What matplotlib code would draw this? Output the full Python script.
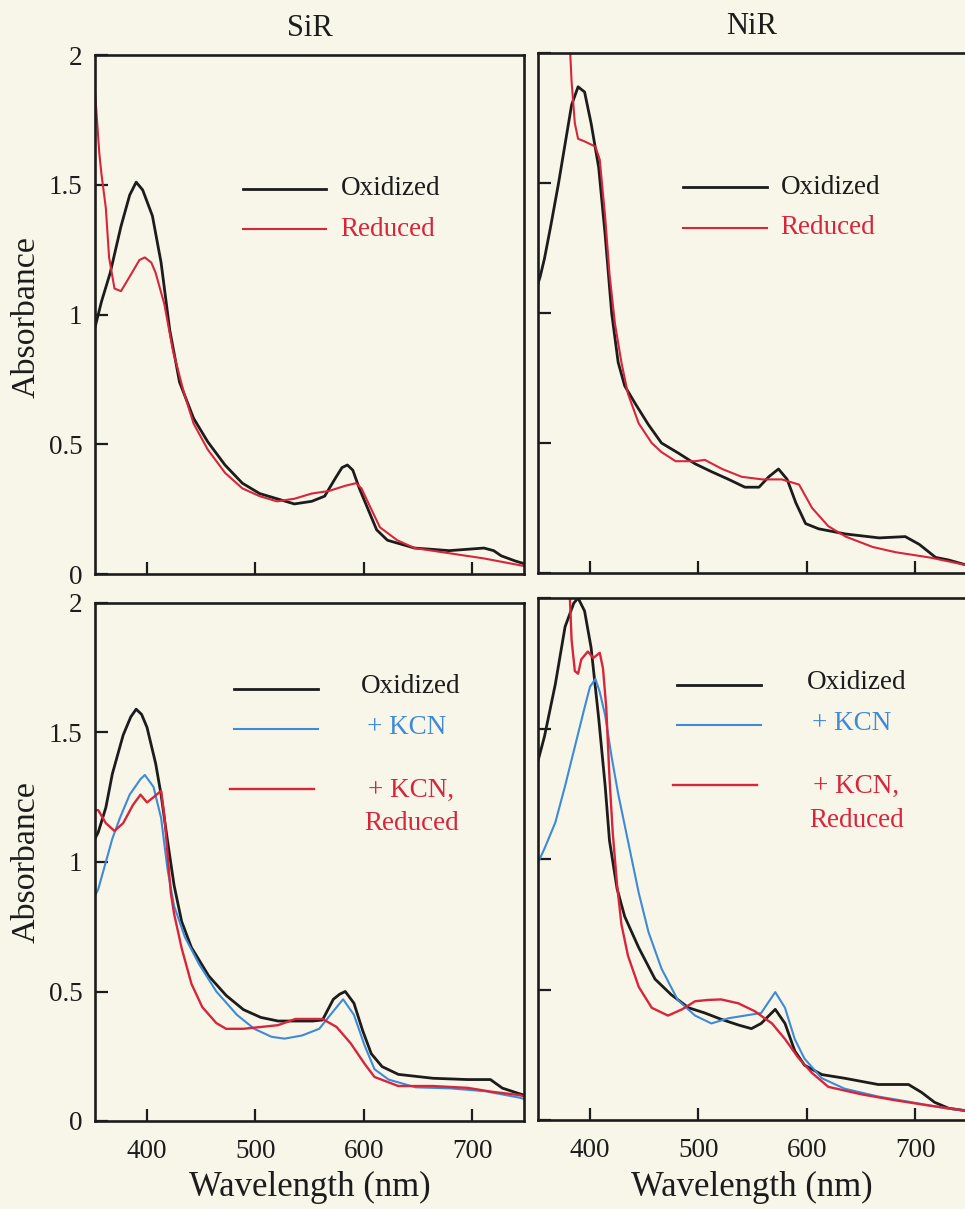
import matplotlib
matplotlib.use("Agg")
import matplotlib.pyplot as plt
from matplotlib.ticker import FixedLocator, FixedFormatter

plt.rcParams['font.family'] = ['Liberation Serif', 'DejaVu Serif']

# ---------------- data ----------------
# SiR (top-left)
sir_ox_wl = [352, 358, 366, 376, 384, 390, 396, 405, 413, 421, 430, 443, 456, 472, 488, 504, 520, 536, 552, 564,
             574, 580, 585, 590, 596, 603, 612, 622, 647, 679, 711, 720, 727, 740, 748]
sir_ox_a = [0.95, 1.05, 1.16, 1.34, 1.46, 1.51, 1.48, 1.38, 1.20, 0.94, 0.74, 0.60, 0.51, 0.42, 0.35, 0.31, 0.29,
            0.27, 0.28, 0.30, 0.37, 0.41, 0.42, 0.40, 0.33, 0.26, 0.17, 0.13, 0.10, 0.09, 0.10, 0.09, 0.07, 0.05, 0.04]
sir_red_wl = [351, 353, 356, 358, 362, 365, 370, 376, 386, 393, 398, 404, 408, 416, 424, 434, 443, 456, 472, 488,
              504, 520, 536, 552, 568, 583, 593, 598, 603, 615, 631, 647, 679, 711, 749]
sir_red_a = [1.92, 1.80, 1.62, 1.54, 1.41, 1.22, 1.10, 1.09, 1.16, 1.21, 1.22, 1.20, 1.16, 1.04, 0.86, 0.70, 0.58,
             0.48, 0.39, 0.33, 0.30, 0.28, 0.29, 0.31, 0.32, 0.34, 0.35, 0.33, 0.285, 0.18, 0.13, 0.10, 0.08, 0.06, 0.03]

# NiR (top-right)
nir_ox_wl = [351, 354, 358, 364, 371, 377, 383, 389, 395, 401, 408, 414, 420, 426, 432, 442, 454, 466, 482, 497,
             512, 528, 543, 556, 565, 574, 582, 590, 599, 611, 636, 667, 691, 704, 719, 731, 748]
nir_ox_a = [1.10, 1.14, 1.21, 1.34, 1.50, 1.65, 1.80, 1.87, 1.85, 1.73, 1.56, 1.30, 1.00, 0.81, 0.72, 0.65, 0.57,
            0.50, 0.46, 0.42, 0.39, 0.36, 0.33, 0.33, 0.37, 0.40, 0.36, 0.27, 0.19, 0.17, 0.15, 0.135, 0.14, 0.11,
            0.06, 0.05, 0.03]
nir_red_wl = [380, 383, 386, 389, 395, 405, 409, 414, 418, 423, 429, 435, 445, 457, 466, 479, 497, 506, 522, 540,
              559, 577, 593, 605, 620, 636, 661, 682, 713, 748]
nir_red_a = [2.15, 1.89, 1.73, 1.67, 1.66, 1.64, 1.59, 1.37, 1.15, 0.96, 0.81, 0.69, 0.575, 0.50, 0.465, 0.43,
             0.43, 0.435, 0.40, 0.37, 0.36, 0.36, 0.34, 0.25, 0.18, 0.14, 0.10, 0.08, 0.06, 0.03]

# SiR + KCN (bottom-left)
sirk_ox_wl = [352, 355, 362, 368, 378, 385, 390, 395, 400, 408, 413, 419, 425, 432, 441, 457, 473, 489, 505, 521,
              537, 553, 562, 572, 578, 583, 591, 599, 607, 617, 632, 664, 696, 717, 728, 744, 748]
sirk_ox_a = [1.09, 1.115, 1.21, 1.34, 1.49, 1.56, 1.59, 1.57, 1.52, 1.38, 1.26, 1.08, 0.91, 0.77, 0.67, 0.56,
             0.485, 0.43, 0.40, 0.386, 0.386, 0.386, 0.39, 0.47, 0.49, 0.50, 0.455, 0.35, 0.26, 0.21, 0.18, 0.165,
             0.16, 0.16, 0.127, 0.105, 0.10]
sirk_kcn_wl = [352, 355, 362, 368, 375, 384, 394, 398, 406, 413, 419, 425, 435, 448, 464, 483, 499, 515, 527, 543,
               559, 572, 581, 591, 601, 610, 623, 648, 680, 712, 744, 748]
sirk_kcn_a = [0.87, 0.895, 1.0, 1.09, 1.17, 1.26, 1.32, 1.336, 1.29, 1.17, 0.97, 0.83, 0.71, 0.606, 0.50, 0.41,
              0.356, 0.325, 0.318, 0.33, 0.356, 0.424, 0.47, 0.41, 0.29, 0.20, 0.16, 0.13, 0.126, 0.115, 0.09, 0.085]
sirk_red_wl = [352, 355, 362, 370, 378, 387, 394, 400, 406, 413, 416, 419, 422, 425, 432, 441, 451, 464, 473, 489,
               521, 537, 562, 575, 588, 601, 610, 632, 664, 696, 718, 744, 748]
sirk_red_a = [1.2, 1.2, 1.15, 1.12, 1.15, 1.22, 1.26, 1.23, 1.25, 1.275, 1.18, 1.03, 0.88, 0.80, 0.667, 0.53, 0.44,
              0.378, 0.356, 0.356, 0.37, 0.394, 0.394, 0.363, 0.30, 0.22, 0.17, 0.135, 0.135, 0.128, 0.113, 0.10,
              0.095]

# NiR + KCN (bottom-right)
nirk_ox_wl = [351, 358, 368, 377, 385, 389, 395, 401, 408, 414, 418, 425, 432, 445, 460, 475, 491, 506, 521, 537,
              549, 558, 571, 580, 589, 598, 614, 635, 666, 694, 706, 718, 731, 748]
nirk_ox_a = [1.36, 1.47, 1.67, 1.89, 1.98, 2.0, 1.95, 1.81, 1.54, 1.28, 1.07, 0.886, 0.78, 0.66, 0.54, 0.48, 0.43,
             0.41, 0.386, 0.364, 0.35, 0.37, 0.424, 0.37, 0.265, 0.21, 0.174, 0.16, 0.136, 0.136, 0.106, 0.068,
             0.045, 0.035]
nirk_kcn_wl = [351, 358, 368, 377, 386, 395, 400, 405, 409, 414, 420, 426, 432, 438, 445, 454, 466, 481, 497, 512,
               528, 543, 558, 571, 580, 589, 598, 614, 635, 666, 697, 728, 748]
nirk_kcn_a = [0.977, 1.04, 1.14, 1.28, 1.43, 1.58, 1.66, 1.69, 1.64, 1.55, 1.39, 1.25, 1.13, 1.01, 0.87, 0.72, 0.58,
              0.46, 0.40, 0.37, 0.39, 0.40, 0.41, 0.49, 0.43, 0.31, 0.235, 0.16, 0.12, 0.09, 0.068, 0.045, 0.035]
nirk_red_wl = [380, 383, 386, 389, 392, 398, 403, 409, 412, 415, 418, 421, 425, 429, 435, 445, 457, 472, 485, 497,
               509, 521, 537, 552, 568, 580, 592, 605, 620, 651, 681, 712, 748]
nirk_red_a = [2.15, 1.84, 1.72, 1.71, 1.765, 1.795, 1.77, 1.79, 1.73, 1.58, 1.31, 1.10, 0.90, 0.75, 0.63, 0.51,
              0.43, 0.40, 0.424, 0.455, 0.46, 0.462, 0.447, 0.417, 0.37, 0.31, 0.24, 0.18, 0.127, 0.098, 0.076,
              0.056, 0.035]

titles = ["SiR", "NiR"]
ytick_vals = [0, 0.5, 1, 1.5, 2]
ytick_labels = ["0", "0.5", "1", "1.5", "2"]
xtick_vals = [400, 500, 600, 700]
xtick_labels = ["400", "500", "600", "700"]
legend_top = ["Oxidized", "Reduced"]
legend_bottom = ["Oxidized", "+ KCN", "+ KCN,\nReduced"]
ylabel = "Absorbance"
xlabel = "Wavelength (nm)"

# ---------------- styling ----------------
BG = "#f8f6e9"
BLACK = "#1c1c1c"
RED = "#d7253b"
BLUE = "#3f8ad6"
W, H = 965, 1209

fig = plt.figure(figsize=(W / 100, H / 100), dpi=100, facecolor=BG)


def add_ax(left, top, right, bottom):
    return fig.add_axes([left / W, 1 - bottom / H, (right - left) / W, (bottom - top) / H])


ax_tl = add_ax(95, 55, 524, 574)
ax_tr = add_ax(538, 53, 967, 573)
ax_bl = add_ax(95, 603, 524, 1121)
ax_br = add_ax(538, 598, 967, 1120)

for ax in (ax_tl, ax_tr, ax_bl, ax_br):
    ax.set_facecolor(BG)
    ax.set_xlim(352, 748)
    ax.set_ylim(0, 2)
    for s in ax.spines.values():
        s.set_linewidth(1.9)
        s.set_color(BLACK)
    ax.xaxis.set_major_locator(FixedLocator(xtick_vals))
    ax.yaxis.set_major_locator(FixedLocator(ytick_vals))
    ax.tick_params(direction='in', length=9, width=1.6, color=BLACK, labelsize=19.5, pad=9,
                   top=False, right=False, labelcolor=BLACK)

for ax in (ax_tl, ax_bl):
    ax.yaxis.set_major_formatter(FixedFormatter(ytick_labels))
for ax in (ax_tr, ax_br):
    ax.tick_params(labelleft=False)
for ax in (ax_tl, ax_tr):
    ax.tick_params(labelbottom=False)
for ax in (ax_bl, ax_br):
    ax.xaxis.set_major_formatter(FixedFormatter(xtick_labels))
    ax.tick_params(axis='x', pad=13)

# titles and axis labels placed in figure pixels
fig.text(309.5 / W, 1 - 28 / H, titles[0], fontsize=22, ha='center', va='center', color=BLACK)
fig.text(752 / W, 1 - 27 / H, titles[1], fontsize=22, ha='center', va='center', color=BLACK)
fig.text(26 / W, 1 - 317 / H, ylabel, fontsize=24.5, rotation=90, ha='center', va='center', color=BLACK)
fig.text(26 / W, 1 - 862 / H, ylabel, fontsize=24.5, rotation=90, ha='center', va='center', color=BLACK)
fig.text(309.5 / W, 1 - 1187 / H, xlabel, fontsize=25, ha='center', va='center', color=BLACK)
fig.text(752 / W, 1 - 1187 / H, xlabel, fontsize=25, ha='center', va='center', color=BLACK)

# ---------------- curves ----------------
ax_tl.plot(sir_ox_wl, sir_ox_a, color=BLACK, lw=2.0)
ax_tl.plot(sir_red_wl, sir_red_a, color=RED, lw=1.5)
ax_tr.plot(nir_ox_wl, nir_ox_a, color=BLACK, lw=2.0)
ax_tr.plot(nir_red_wl, nir_red_a, color=RED, lw=1.5)

ax_bl.plot(sirk_ox_wl, sirk_ox_a, color=BLACK, lw=2.0)
ax_bl.plot(sirk_kcn_wl, sirk_kcn_a, color=BLUE, lw=1.5)
ax_bl.plot(sirk_red_wl, sirk_red_a, color=RED, lw=1.7)
ax_br.plot(nirk_ox_wl, nirk_ox_a, color=BLACK, lw=2.0)
ax_br.plot(nirk_kcn_wl, nirk_kcn_a, color=BLUE, lw=1.5)
ax_br.plot(nirk_red_wl, nirk_red_a, color=RED, lw=1.7)

# ---------------- legends (hand placed) ----------------
for ax, (x0, x1, xt) in ((ax_tl, (0.345, 0.538, 0.572)), (ax_tr, (0.337, 0.534, 0.565))):
    tr = ax.transAxes
    ax.plot([x0, x1], [0.742, 0.742], transform=tr, color=BLACK, lw=2.0)
    ax.plot([x0, x1], [0.664, 0.664], transform=tr, color=RED, lw=1.5)
    ax.text(xt, 0.742, legend_top[0], transform=tr, fontsize=19.5, color=BLACK, va='center', ha='left')
    ax.text(xt, 0.664, legend_top[1], transform=tr, fontsize=19.5, color=RED, va='center', ha='left')

for ax, xc in ((ax_bl, 0.737), (ax_br, 0.742)):
    tr = ax.transAxes
    ax.plot([0.325, 0.52], [0.834, 0.834], transform=tr, color=BLACK, lw=2.0)
    ax.plot([0.325, 0.52], [0.757, 0.757], transform=tr, color=BLUE, lw=1.5)
    ax.plot([0.315, 0.51], [0.641, 0.641], transform=tr, color=RED, lw=1.7)
    ax.text(xc, 0.838, legend_bottom[0], transform=tr, fontsize=19.5, color=BLACK, va='center', ha='center')
    ax.text(xc - 0.01, 0.759, legend_bottom[1], transform=tr, fontsize=19.5, color=BLUE, va='center', ha='center')
    ax.text(xc, 0.606, legend_bottom[2], transform=tr, fontsize=19.5, color=RED, va='center', ha='center',
            linespacing=1.45)

fig.savefig("out.png", dpi=100, facecolor=BG)
